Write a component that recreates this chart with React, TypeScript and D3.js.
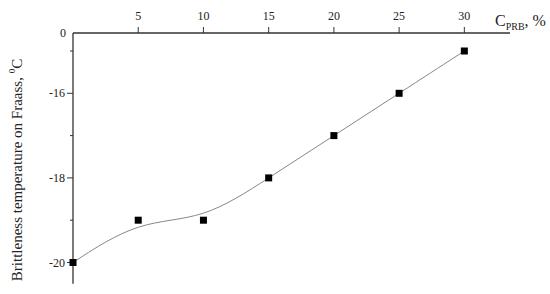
import React from "react";
import * as d3 from "d3";

// data
const content = [0, 5, 10, 15, 20, 25, 30];
const temperature = [-20, -19, -19, -18, -17, -16, -15];
const xTicks = [5, 10, 15, 20, 25, 30];
const yTicks = [-16, -18, -20];
const yMinor = [-15, -17, -19];

const W = 550;
const H = 294;
const FONT = "Liberation Serif, serif";

export default function App() {
  const x = d3.scaleLinear().domain([0, 33.5]).range([73, 510]);
  const y = d3.scaleLinear().domain([-20, -15]).range([262.5, 51]);
  const axisTop = 33;
  const axisBottom = y(-20.5);

  const pts: [number, number][] = content.map((c, i) => [x(c), y(temperature[i])]);
  const line = d3.line().curve(d3.curveBasis)(pts) || "";

  return (
    <svg
      width={W}
      height={H}
      style={{ position: "absolute", left: 0, top: 0, background: "#fff", fontFamily: FONT }}
    >
      {/* axes */}
      <line x1={x(0)} x2={510} y1={axisTop} y2={axisTop} stroke="#333" strokeWidth={1.3} />
      <line x1={x(0)} x2={x(0)} y1={axisTop} y2={axisBottom} stroke="#333" strokeWidth={1.3} />

      {xTicks.map((t) => (
        <g key={"x" + t}>
          <line x1={x(t)} x2={x(t)} y1={axisTop} y2={axisTop - 6} stroke="#333" strokeWidth={1} />
          <text x={x(t)} y={20} textAnchor="middle" fontSize={12} fill="#222">
            {t}
          </text>
        </g>
      ))}

      <text x={66} y={37} textAnchor="end" fontSize={12} fill="#222">0</text>

      {yTicks.map((t) => (
        <g key={"y" + t}>
          <line x1={x(0) - 6} x2={x(0)} y1={y(t)} y2={y(t)} stroke="#333" strokeWidth={1} />
          <text x={65} y={y(t) + 4} textAnchor="end" fontSize={12} fill="#222">
            {t}
          </text>
        </g>
      ))}
      {yMinor.map((t) => (
        <line key={"m" + t} x1={x(0) - 3} x2={x(0)} y1={y(t)} y2={y(t)} stroke="#333" strokeWidth={1} />
      ))}

      {/* fitted curve */}
      <path d={line} fill="none" stroke="#888" strokeWidth={1} />

      {pts.map((p, i) => (
        <rect key={i} x={p[0] - 3.5} y={p[1] - 3.5} width={7} height={7} fill="#000" />
      ))}

      {/* axis titles */}
      <text x={495} y={26} fontSize={16} fill="#222">
        C<tspan fontSize={10} dy={4}>PRB</tspan>
        <tspan dy={-4}>, %</tspan>
      </text>

      <text
        transform={`translate(22,${170}) rotate(-90)`}
        textAnchor="middle"
        fontSize={15}
        fill="#222"
      >
        Brittleness temperature on Fraass, <tspan fontSize={9} dy={-7}>0</tspan>
        <tspan dy={7}>C</tspan>
      </text>
    </svg>
  );
}
